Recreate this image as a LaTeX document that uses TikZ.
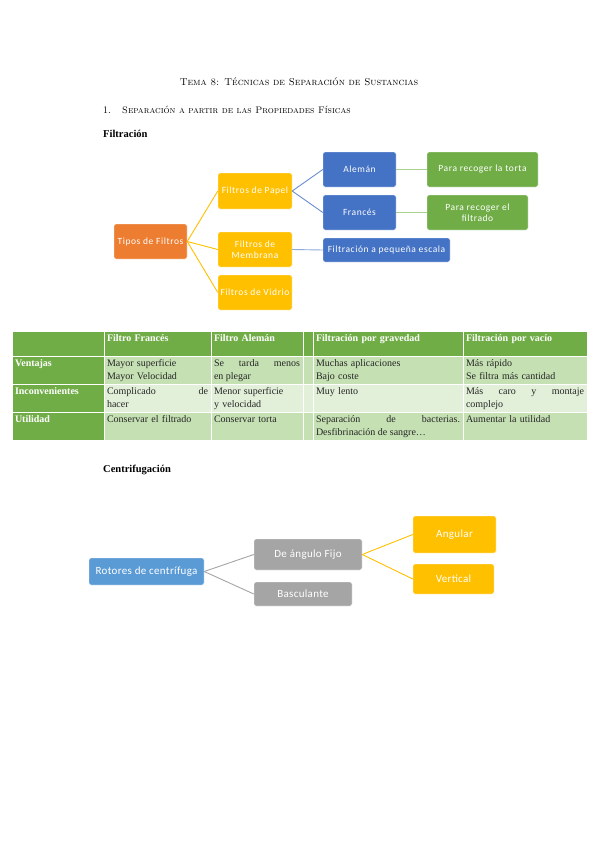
\documentclass[tikz,border=0pt]{standalone}
\usepackage{fontspec}
\usepackage{tikz}
\usetikzlibrary{positioning}
\newfontfamily\boxfont[LetterSpace=6]{Carlito}
\newfontfamily\rotfont[LetterSpace=3]{Carlito}
\newfontfamily\tblfont{Liberation Serif}
\definecolor{sorange}{HTML}{ED7D31}
\definecolor{syellow}{HTML}{FFC000}
\definecolor{sblue}{HTML}{4472C4}
\definecolor{lblue}{HTML}{8FAADC}
\definecolor{sgreen}{HTML}{70AD47}
\definecolor{lgreen}{HTML}{A9D18E}
\definecolor{rblue}{HTML}{5B9BD5}
\definecolor{sgray}{HTML}{A5A5A5}
\definecolor{tgreen}{HTML}{70AD47}
\definecolor{tlight}{HTML}{C5E0B3}
\definecolor{tpale}{HTML}{E2EFD9}
\definecolor{tink}{HTML}{262626}

\begin{document}
\begin{tikzpicture}[x=1pt,y=-1pt,
  box/.style={rounded corners=2pt,draw=white,line width=0.4pt,text=white,align=center,inner sep=1pt,font=\boxfont\fontsize{9.5}{11.5}\selectfont},
  rbox/.style={box,font=\rotfont\fontsize{11}{13}\selectfont},
  link/.style={line width=0.9pt},
  tcell/.style={anchor=north west,inner xsep=3pt,inner ysep=2pt,outer sep=0pt,draw=white,line width=0.8pt,text height=8pt,align=left,text=tink,font=\tblfont\fontsize{10}{13}\selectfont},
  hcell/.style={tcell,fill=tgreen,text=white,text depth=13pt,font=\tblfont\bfseries\fontsize{10}{13}\selectfont},
  rcell/.style={tcell,text depth=16pt},
  lcell/.style={rcell,fill=tgreen,text=white,font=\tblfont\bfseries\fontsize{10}{13}\selectfont}]
  \fill[white] (0,0) rectangle (599,848);
  \useasboundingbox (0,0) rectangle (599,848);

  % headings
  \node[font=\scshape\fontsize{10}{12}\selectfont] (title) at (299,82) {Tema 8: Técnicas de Separación de Sustancias};
  \node[anchor=west,inner sep=0pt,font=\fontsize{10}{12}\selectfont] (num) at (103,110) {1.};
  \node[anchor=west,inner sep=0pt,font=\scshape\fontsize{9.5}{12}\selectfont] (sec) at (122,110) {Separación a partir de las Propiedades Físicas};
  \node[anchor=west,inner sep=0pt,font=\tblfont\bfseries\fontsize{10.5}{12}\selectfont] (filt) at (103,134) {Filtración};
  \node[anchor=west,inner sep=0pt,font=\tblfont\bfseries\fontsize{10.5}{12}\selectfont] (centri) at (103,470) {Centrifugación};

  % filtros
  \node[box,fill=sorange,minimum width=73pt,minimum height=35pt] (tipos) at (150.5,241.5) {Tipos de Filtros};
  \node[box,fill=syellow,minimum width=74pt,minimum height=36pt] (papel) at (255,191) {Filtros de Papel};
  \node[box,fill=syellow,minimum width=74pt,minimum height=35pt] (membrana) at (255,249.5) {Filtros de\\Membrana};
  \node[box,fill=syellow,minimum width=74pt,minimum height=35pt] (vidrio) at (255,292.5) {Filtros de Vidrio};
  \node[box,fill=sblue,minimum width=73pt,minimum height=35pt] (aleman) at (359.5,169.5) {Alemán};
  \node[box,fill=sblue,minimum width=73pt,minimum height=35pt] (frances) at (359.5,212.5) {Francés};
  \node[box,fill=sgreen,minimum width=111pt,minimum height=35pt] (torta) at (482.5,169.5) {Para recoger la torta};
  \node[box,fill=sgreen,minimum width=101pt,minimum height=35pt] (filtrado) at (477.5,212.5) {Para recoger el\\filtrado};
  \node[box,fill=sblue,minimum width=127pt,minimum height=24pt] (pequena) at (386.5,250) {Filtración a pequeña escala};

  \draw[link,syellow] (tipos.east) -- (papel.west);
  \draw[link,syellow] (tipos.east) -- (membrana.west);
  \draw[link,syellow] (tipos.east) -- (vidrio.west);
  \draw[link,sblue!80] (papel.east) -- (aleman.west);
  \draw[link,sblue!80] (papel.east) -- (frances.west);
  \draw[link,lblue] (membrana.east) -- (pequena.west);
  \draw[link,lgreen] (aleman.east) -- (torta.west);
  \draw[link,lgreen] (frances.east) -- (filtrado.west);

  % tabla
  \node[hcell,text width=86pt] (h0) at (12,331) {};
  \node[hcell,text width=101pt] (h1) at (h0.north east) {Filtro Francés};
  \node[hcell,text width=86pt] (h2) at (h1.north east) {Filtro Alemán};
  \node[hcell,text width=4pt] (h3) at (h2.north east) {};
  \node[hcell,text width=144pt] (h4) at (h3.north east) {Filtración por gravedad};
  \node[hcell,text width=118pt] (h5) at (h4.north east) {Filtración por vacío};

  \node[lcell,text width=86pt] (v0) at (h0.south west) {Ventajas};
  \node[rcell,fill=tlight,text width=101pt] (v1) at (v0.north east) {Mayor superficie\\Mayor Velocidad};
  \node[rcell,fill=tlight,text width=86pt,align=justify] (v2) at (v1.north east) {Se tarda menos\linebreak en plegar};
  \node[rcell,fill=tlight,text width=4pt] (v3) at (v2.north east) {};
  \node[rcell,fill=tlight,text width=144pt] (v4) at (v3.north east) {Muchas aplicaciones\\Bajo coste};
  \node[rcell,fill=tlight,text width=118pt] (v5) at (v4.north east) {Más rápido\\Se filtra más cantidad};

  \node[lcell,text width=86pt] (i0) at (v0.south west) {Inconvenientes};
  \node[rcell,fill=tpale,text width=101pt,align=justify] (i1) at (i0.north east) {Complicado de\linebreak hacer};
  \node[rcell,fill=tpale,text width=86pt] (i2) at (i1.north east) {Menor superficie\\y velocidad};
  \node[rcell,fill=tpale,text width=4pt] (i3) at (i2.north east) {};
  \node[rcell,fill=tpale,text width=144pt] (i4) at (i3.north east) {Muy lento};
  \node[rcell,fill=tpale,text width=118pt,align=justify] (i5) at (i4.north east) {Más caro y montaje\linebreak complejo};

  \node[lcell,text width=86pt] (u0) at (i0.south west) {Utilidad};
  \node[rcell,fill=tlight,text width=101pt] (u1) at (u0.north east) {Conservar el filtrado};
  \node[rcell,fill=tlight,text width=86pt] (u2) at (u1.north east) {Conservar torta};
  \node[rcell,fill=tlight,text width=4pt] (u3) at (u2.north east) {};
  \node[rcell,fill=tlight,text width=144pt,align=justify] (u4) at (u3.north east) {Separación de bacterias.\linebreak Desfibrinación de sangre\dots};
  \node[rcell,fill=tlight,text width=118pt] (u5) at (u4.north east) {Aumentar la utilidad};

  % rotores
  \node[rbox,fill=rblue,minimum width=115pt,minimum height=27pt] (rotores) at (146.5,571.5) {Rotores de centrífuga};
  \node[rbox,fill=sgray,minimum width=108pt,minimum height=31pt] (fijo) at (308,554.5) {De ángulo Fijo};
  \node[rbox,fill=sgray,minimum width=98pt,minimum height=24pt] (bascul) at (303,594) {Basculante};
  \node[rbox,fill=syellow,minimum width=83pt,minimum height=37pt] (angular) at (454.5,534.5) {Angular};
  \node[rbox,fill=syellow,minimum width=81pt,minimum height=30pt] (vertical) at (453.5,579) {Vertical};

  \draw[link,sgray] (rotores.east) -- (fijo.west);
  \draw[link,sgray] (rotores.east) -- (bascul.west);
  \draw[link,syellow] (fijo.east) -- (angular.west);
  \draw[link,syellow] (fijo.east) -- (vertical.west);
\end{tikzpicture}
\end{document}
